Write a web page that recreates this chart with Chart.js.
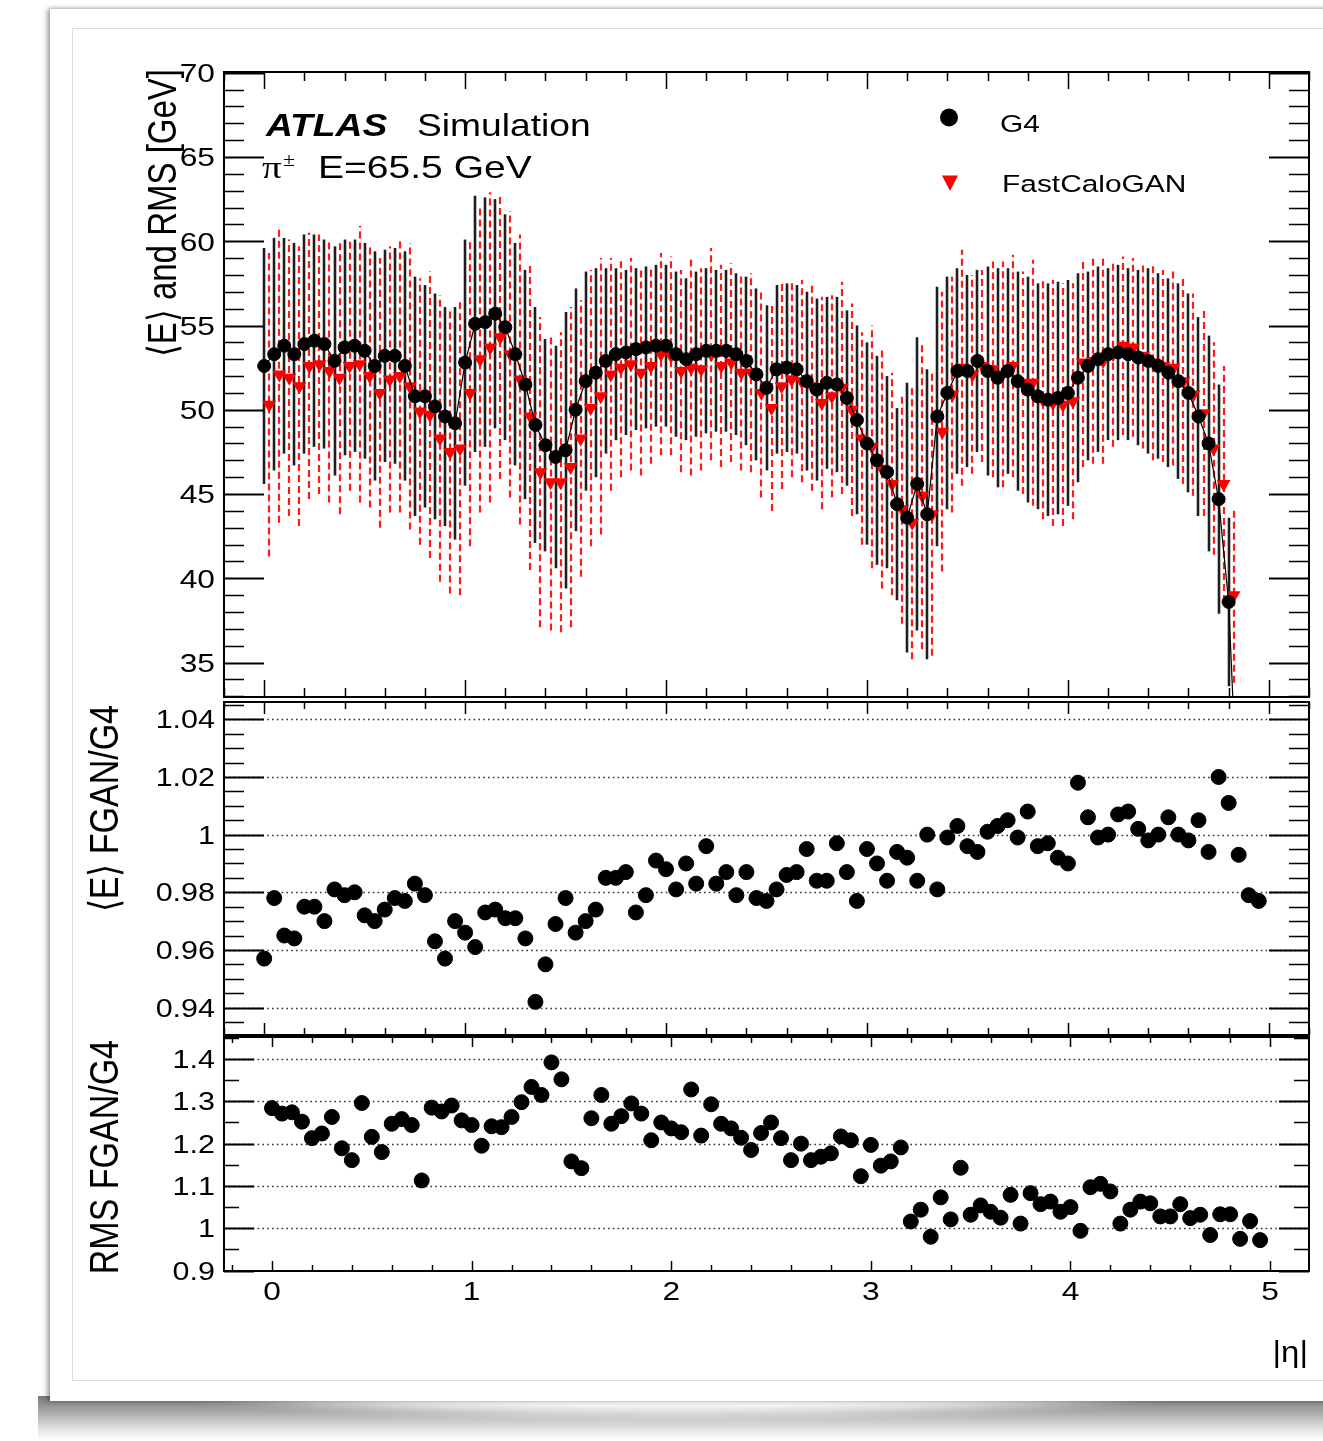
<!DOCTYPE html>
<html>
<head>
<meta charset="utf-8">
<script src="https://cdn.jsdelivr.net/npm/chart.js@4/dist/chart.umd.min.js"></script>
<style>
  html, body { margin: 0; padding: 0; background: #fff; }
  #page { position: relative; width: 1323px; height: 1441px; overflow: hidden; background: #fff; }
  #shadow { position: absolute; left: 38px; top: 1396px; width: 1300px; height: 45px;
            background: linear-gradient(to bottom, #7a7a7a 0%, #a8a8a8 35%, #e6e6e6 75%, #fff 100%); }
  #glow { position: absolute; left: 150px; top: 1330px; width: 1060px; height: 84px; border-radius: 50%;
          background: #fff; filter: blur(7px); }
  #card { position: absolute; left: 50px; top: 9px; width: 1300px; height: 1392px; background: #fff;
          box-shadow: -3px 0 5px rgba(0,0,0,0.35), 0 -1px 3px rgba(0,0,0,0.12); }
  #inner { position: absolute; left: 72px; top: 28px; width: 1270px; height: 1351px; border: 1px solid #dcdcdc; }
  canvas { position: absolute; left: 0; top: 0; }
</style>
</head>
<body>
<div id="page">
  <div id="shadow"></div>
  <div id="glow"></div>
  <div id="card"></div>
  <div id="inner"></div>
  <canvas id="cTop" width="1323" height="1441"></canvas>
  <canvas id="cMid" width="1323" height="1441"></canvas>
  <canvas id="cBot" width="1323" height="1441"></canvas>
</div>
<script>
// |eta| bins
const etaBins = [
  0.00,0.05,0.10,0.15,0.20,0.25,0.30,0.35,0.40,0.45,
  0.50,0.55,0.60,0.65,0.70,0.75,0.80,0.85,0.90,0.95,
  1.00,1.05,1.10,1.15,1.20,1.25,1.30,1.35,1.40,1.45,
  1.50,1.55,1.60,1.65,1.70,1.75,1.80,1.85,1.90,1.95,
  2.00,2.05,2.10,2.15,2.20,2.25,2.30,2.35,2.40,2.45,
  2.50,2.55,2.60,2.65,2.70,2.75,2.80,2.85,2.90,2.95,
  3.00,3.05,3.10,3.15,3.20,3.25,3.30,3.35,3.40,3.45,
  3.50,3.55,3.60,3.65,3.70,3.75,3.80,3.85,3.90,3.95,
  4.00,4.05,4.10,4.15,4.20,4.25,4.30,4.35,4.40,4.45,
  4.50,4.55,4.60,4.65,4.70,4.75,4.80,4.85,4.90,4.95
];

// Geant4: mean energy and RMS [GeV]
const g4Mean = [
  52.6,53.3,53.8,53.3,53.9,54.1,53.9,52.9,53.7,53.8,
  53.5,52.6,53.2,53.2,52.6,50.8,50.8,50.2,49.6,49.2,
  52.8,55.1,55.2,55.7,54.9,53.3,51.5,49.1,47.9,47.2,
  47.6,50.0,51.7,52.2,52.9,53.3,53.4,53.6,53.7,53.8,
  53.8,53.3,53.0,53.3,53.5,53.5,53.5,53.3,52.9,52.1,
  51.3,52.4,52.5,52.4,51.7,51.2,51.6,51.5,50.7,49.4,
  48.0,47.0,46.3,44.4,43.6,45.6,43.8,49.6,51.0,52.3,
  52.3,52.9,52.3,51.9,52.3,51.7,51.2,50.8,50.6,50.7,
  51.0,51.9,52.6,53.0,53.3,53.4,53.3,53.1,52.9,52.6,
  52.2,51.7,51.0,49.6,48.0,44.7,38.6,25.0,15.0,10.0
];
const g4Rms = [
  7.0,6.9,6.4,6.6,6.5,6.3,6.2,6.8,6.4,6.3,
  6.4,6.8,6.3,6.4,6.8,7.1,6.6,6.7,6.5,6.9,
  7.3,7.6,7.4,6.8,6.7,6.6,6.8,7.0,6.3,6.6,
  8.2,7.2,6.5,6.2,5.5,5.1,4.9,4.8,4.8,4.8,
  4.8,4.9,4.8,4.9,4.9,4.8,4.8,4.8,5.0,5.1,
  4.9,5.0,5.0,5.0,5.3,5.4,5.1,5.2,5.2,5.6,
  6.0,6.2,5.7,5.7,8.0,8.7,8.6,7.7,6.9,6.1,
  5.7,5.4,6.2,6.5,6.1,6.5,6.7,6.7,6.9,6.9,
  6.7,6.2,5.6,5.5,5.1,5.2,5.1,5.2,5.5,5.5,
  5.6,5.8,5.9,5.9,6.4,6.8,5.0,5.0,5.0,5.0
];

// FastCaloGAN: mean energy and RMS [GeV]
const fganMean = [
  50.3,52.1,51.9,51.4,52.6,52.7,52.3,51.9,52.6,52.7,
  52.0,51.0,51.8,52.0,51.4,49.9,49.7,48.3,47.5,47.7,
  51.0,53.0,53.7,54.3,53.3,51.8,49.6,46.3,45.7,45.7,
  46.6,48.3,50.1,50.8,52.1,52.5,52.7,52.2,52.6,53.3,
  53.2,52.3,52.5,52.4,53.3,52.6,52.8,52.2,52.2,51.0,
  50.1,51.4,51.8,51.7,51.4,50.4,50.8,51.3,50.0,48.3,
  47.8,46.5,45.6,44.1,43.3,44.9,43.8,48.7,50.9,52.5,
  52.1,52.6,52.4,52.1,52.6,51.6,51.6,50.6,50.4,50.3,
  50.5,52.8,52.9,52.9,53.3,53.8,53.7,53.2,52.8,52.6,
  52.5,51.7,50.9,49.8,47.7,45.6,39.0,24.8,14.7,9.8
];
const fganRms = [
  9.0,8.8,8.2,8.3,7.9,7.7,7.8,8.1,7.4,8.2,
  7.8,8.0,7.9,8.1,8.5,7.9,8.5,8.5,8.4,8.7,
  9.1,9.1,9.2,8.4,8.5,8.6,9.1,9.2,8.8,8.9,
  9.5,8.2,8.2,8.2,6.9,6.5,6.3,6.1,5.8,6.0,
  5.9,6.0,6.4,6.0,6.3,6.0,5.9,5.8,5.9,6.2,
  6.1,6.1,5.8,6.0,6.2,6.3,6.0,6.3,6.3,6.3,
  7.2,7.1,6.6,6.8,8.1,9.1,8.4,8.3,7.0,7.0,
  5.9,5.7,6.4,6.7,6.6,6.6,7.3,7.1,7.3,7.2,
  7.0,6.2,6.1,6.1,5.5,5.3,5.3,5.5,5.8,5.7,
  5.8,6.1,6.0,6.1,6.3,7.0,5.2,4.9,5.1,4.9
];

// Ratios FGAN/G4
const meanRatio = [
  0.957,0.978,0.965,0.964,0.975,0.975,0.970,0.981,0.979,0.980,
  0.972,0.970,0.974,0.978,0.977,0.983,0.979,0.963,0.957,0.970,
  0.966,0.961,0.973,0.974,0.971,0.971,0.964,0.942,0.955,0.969,
  0.978,0.966,0.970,0.974,0.985,0.985,0.987,0.973,0.979,0.991,
  0.988,0.981,0.990,0.983,0.996,0.983,0.987,0.979,0.987,0.978,
  0.977,0.981,0.986,0.987,0.995,0.984,0.984,0.997,0.987,0.977,
  0.995,0.990,0.984,0.994,0.992,0.984,1.000,0.981,0.999,1.003,
  0.996,0.994,1.001,1.003,1.005,0.999,1.008,0.996,0.997,0.992,
  0.990,1.018,1.006,0.999,1.000,1.007,1.008,1.002,0.998,1.000,
  1.006,1.000,0.998,1.005,0.994,1.020,1.011,0.993,0.979,0.977
];
const rmsRatio = [
  1.284,1.271,1.274,1.252,1.213,1.224,1.263,1.189,1.161,1.296,
  1.216,1.180,1.247,1.258,1.244,1.113,1.285,1.276,1.290,1.255,
  1.244,1.195,1.241,1.239,1.263,1.298,1.334,1.315,1.392,1.352,
  1.158,1.142,1.260,1.315,1.247,1.265,1.295,1.271,1.208,1.250,
  1.236,1.227,1.328,1.219,1.293,1.247,1.236,1.214,1.185,1.225,
  1.250,1.213,1.161,1.200,1.161,1.169,1.177,1.217,1.208,1.123,
  1.197,1.148,1.158,1.191,1.016,1.044,0.980,1.073,1.021,1.143,
  1.032,1.054,1.039,1.025,1.079,1.011,1.083,1.057,1.063,1.039,
  1.050,0.994,1.097,1.105,1.087,1.011,1.044,1.063,1.059,1.028,
  1.028,1.057,1.024,1.032,0.984,1.033,1.033,0.975,1.017,0.972
];

// Axis ticks and their labels
const etaTicks = [0, 1, 2, 3, 4, 5];
const etaTickLabels = ['0', '1', '2', '3', '4', '5'];
const energyTicks = [35, 40, 45, 50, 55, 60, 65, 70];
const energyTickLabels = ['35', '40', '45', '50', '55', '60', '65', '70'];
const meanRatioTicks = [0.94, 0.96, 0.98, 1.00, 1.02, 1.04];
const meanRatioTickLabels = ['0.94', '0.96', '0.98', '1', '1.02', '1.04'];
const rmsRatioTicks = [0.9, 1.0, 1.1, 1.2, 1.3, 1.4];
const rmsRatioTickLabels = ['0.9', '1', '1.1', '1.2', '1.3', '1.4'];

// ---------------------------------------------------------------------------
const FONT = "'Liberation Sans', Arial, Helvetica, sans-serif";
const SERIF = "'Liberation Serif', 'Times New Roman', serif";
const SX = 1.22;            // horizontal widening of all lettering
const FGAN_SHIFT = 0.025;   // FastCaloGAN drawn half a bin to the right
const PAGE_H = 1441;

function txt(ctx, s, x, y, o) {
  ctx.save();
  ctx.font = o.font;
  ctx.fillStyle = o.color || '#000';
  ctx.textAlign = o.align || 'left';
  ctx.textBaseline = o.baseline || 'alphabetic';
  ctx.translate(x, y);
  ctx.scale(o.sx === undefined ? SX : o.sx, 1);
  if (o.rotate) ctx.rotate(-Math.PI / 2);
  ctx.fillText(s, 0, 0);
  ctx.restore();
}

function fixedTicks(values) {
  return (scale) => { scale.ticks = values.map(v => ({ value: v })); };
}

// Frame, ROOT-like inward ticks, dotted grid, error bars and lettering of one panel
function makeDeco(o) {
  return {
    id: 'panelDeco',
    beforeDatasetsDraw(chart) {
      const { ctx, chartArea: a } = chart;
      const xs = chart.scales.x, ys = chart.scales.y;
      ctx.save();
      ctx.beginPath();
      ctx.rect(a.left, a.top, a.right - a.left, a.bottom - a.top);
      ctx.clip();
      if (o.grid) {
        ctx.strokeStyle = '#333';
        ctx.lineWidth = 1.4;
        ctx.setLineDash([1.6, 3.2]);
        ys.ticks.forEach(t => {
          const y = Math.round(ys.getPixelForValue(t.value)) + 0.5;
          ctx.beginPath(); ctx.moveTo(a.left, y); ctx.lineTo(a.right, y); ctx.stroke();
        });
        ctx.setLineDash([]);
      }
      (o.errorBars || []).forEach(eb => {
        ctx.strokeStyle = eb.color;
        ctx.lineWidth = eb.width;
        ctx.setLineDash(eb.dash);
        const shift = eb.shift;
        eb.x.forEach((xv, i) => {
          const px = Math.round(xs.getPixelForValue(xv + shift));
          const y1 = ys.getPixelForValue(eb.mean[i] - eb.rms[i]);
          const y2 = ys.getPixelForValue(eb.mean[i] + eb.rms[i]);
          ctx.beginPath(); ctx.moveTo(px, y1); ctx.lineTo(px, y2); ctx.stroke();
        });
        ctx.setLineDash([]);
      });
      ctx.restore();
    },
    afterDatasetsDraw(chart) {
      const { ctx, chartArea: a } = chart;
      const xs = chart.scales.x, ys = chart.scales.y;
      ctx.save();
      ctx.strokeStyle = '#000';
      ctx.lineWidth = 1.5;
      const x0 = Math.ceil(xs.min / 0.2 - 1e-6);
      const x1 = Math.floor(xs.max / 0.2 + 1e-6);
      for (let k = x0; k <= x1; k++) {
        const v = k * 0.2;
        const major = Math.abs(v - Math.round(v)) < 1e-6;
        const px = Math.round(xs.getPixelForValue(v)) + 0.5;
        const L = major ? o.xMajor : o.xMinor;
        ctx.beginPath();
        ctx.moveTo(px, a.bottom); ctx.lineTo(px, a.bottom - L);
        ctx.moveTo(px, a.top); ctx.lineTo(px, a.top + L);
        ctx.stroke();
      }
      const majors = ys.ticks.map(t => t.value);
      const m0 = Math.ceil(ys.min / o.yMinorStep - 1e-6);
      const m1 = Math.floor(ys.max / o.yMinorStep + 1e-6);
      for (let k = m0; k <= m1; k++) {
        const v = k * o.yMinorStep;
        const major = majors.some(m => Math.abs(m - v) < 1e-6);
        const py = Math.round(ys.getPixelForValue(v)) + 0.5;
        const L = major ? o.yMajor : o.yMinor;
        ctx.lineWidth = major ? 2 : 1.6;
        ctx.beginPath();
        ctx.moveTo(a.left, py); ctx.lineTo(a.left + L, py);
        ctx.moveTo(a.right, py); ctx.lineTo(a.right - L, py);
        ctx.stroke();
      }
      ctx.lineWidth = 2;
      ctx.strokeRect(a.left, a.top, a.right - a.left, a.bottom - a.top);
      ctx.restore();
    },
    afterDraw(chart) {
      const { ctx, chartArea: a } = chart;
      const xs = chart.scales.x, ys = chart.scales.y;
      ys.ticks.forEach((t, i) => {
        const py = ys.getPixelForValue(t.value);
        txt(ctx, o.yLabels[i], a.left - 9, py + o.yLabelSize * 0.36,
            { font: `${o.yLabelSize}px ${FONT}`, align: 'right' });
      });
      if (o.xLabels) {
        xs.ticks.forEach((t, i) => {
          const px = xs.getPixelForValue(t.value);
          txt(ctx, o.xLabels[i], px, o.xLabelBase, { font: `26px ${FONT}`, align: 'center' });
        });
      }
      if (o.extra) o.extra(ctx, chart);
    }
  };
}

function drawTopLettering(ctx) {
  txt(ctx, 'ATLAS', 266, 136, { font: `italic bold 30.5px ${FONT}` });
  txt(ctx, 'Simulation', 417, 136, { font: `30.5px ${FONT}` });
  txt(ctx, 'π', 262, 178, { font: `32px ${SERIF}` });
  txt(ctx, '±', 283, 166, { font: `18px ${SERIF}` });
  txt(ctx, 'E=65.5 GeV', 318, 178, { font: `32px ${FONT}` });
  // legend
  ctx.save();
  ctx.fillStyle = '#000';
  ctx.beginPath(); ctx.arc(949, 117.5, 9, 0, Math.PI * 2); ctx.fill();
  ctx.fillStyle = '#ff0000';
  ctx.beginPath(); ctx.moveTo(942, 175.5); ctx.lineTo(958, 175.5); ctx.lineTo(950, 191); ctx.closePath(); ctx.fill();
  ctx.restore();
  txt(ctx, 'G4', 1000, 132, { font: `24.5px ${FONT}` });
  txt(ctx, 'FastCaloGAN', 1002, 192, { font: `24.5px ${FONT}` });
  txt(ctx, '⟨E⟩ and RMS [GeV]', 176, 69, { font: `33px ${FONT}`, rotate: true, align: 'right' });
}
function drawMidLettering(ctx) {
  txt(ctx, '⟨E⟩ FGAN/G4', 118, 705, { font: `34px ${FONT}`, rotate: true, align: 'right' });
}
function drawBotLettering(ctx) {
  txt(ctx, 'RMS FGAN/G4', 118, 1040, { font: `34px ${FONT}`, rotate: true, align: 'right' });
  txt(ctx, '|η|', 1308, 1362, { font: `30px ${FONT}`, align: 'right', sx: 1.1 });
}

function baseOptions(area, xRange, yRange, yTickValues) {
  return {
    responsive: false,
    animation: false,
    devicePixelRatio: 1,
    events: [],
    layout: { padding: { left: 224, right: 1323 - 1309, top: area[0], bottom: PAGE_H - area[1] } },
    scales: {
      x: { type: 'linear', min: xRange[0], max: xRange[1], display: false,
           afterBuildTicks: fixedTicks(etaTicks) },
      y: { type: 'linear', min: yRange[0], max: yRange[1], display: false,
           afterBuildTicks: fixedTicks(yTickValues) }
    },
    plugins: { legend: { display: false }, tooltip: { enabled: false } }
  };
}

const pts = (xs, ys, shift) => xs.map((x, i) => ({ x: x + (shift || 0), y: ys[i] }));

// Upper panel: mean energy with RMS bars
new Chart(document.getElementById('cTop'), {
  type: 'scatter',
  data: {
    datasets: [
      { label: 'G4', data: pts(etaBins, g4Mean), showLine: true, tension: 0,
        borderColor: '#000', borderWidth: 1.2,
        pointStyle: 'circle', pointRadius: 6.5, pointBorderWidth: 1,
        pointBackgroundColor: '#000', pointBorderColor: '#000', order: 0 },
      { label: 'FastCaloGAN', data: pts(etaBins, fganMean, FGAN_SHIFT), showLine: false,
        pointStyle: 'triangle', rotation: 180, pointRadius: 8, pointBorderWidth: 0,
        pointBackgroundColor: '#ff0000', pointBorderColor: '#ff0000', order: 1 }
    ]
  },
  options: baseOptions([72, 697], [-0.2, 5.2], [32.96, 70.04], energyTicks),
  plugins: [makeDeco({
    grid: false, xMajor: 17, xMinor: 9, yMajor: 40, yMinor: 20, yMinorStep: 1,
    yLabels: energyTickLabels, yLabelSize: 26, extra: drawTopLettering,
    errorBars: [
      { x: etaBins, mean: g4Mean, rms: g4Rms, color: '#1e1e1e', width: 2.6, dash: [], shift: 0 },
      { x: etaBins, mean: fganMean, rms: fganRms, color: '#ff1a1a', width: 2.2, dash: [7, 4], shift: FGAN_SHIFT }
    ]
  })]
});

// Middle panel: ratio of means
new Chart(document.getElementById('cMid'), {
  type: 'scatter',
  data: {
    datasets: [
      { label: 'mean ratio', data: pts(etaBins, meanRatio), showLine: false,
        pointStyle: 'circle', pointRadius: 7.5, pointBorderWidth: 1,
        pointBackgroundColor: '#000', pointBorderColor: '#000' }
    ]
  },
  options: baseOptions([702, 1035], [-0.2, 5.2], [0.9305, 1.046], meanRatioTicks),
  plugins: [makeDeco({
    grid: true, xMajor: 12, xMinor: 7, yMajor: 40, yMinor: 20, yMinorStep: 0.005,
    yLabels: meanRatioTickLabels, yLabelSize: 25, extra: drawMidLettering
  })]
});

// Lower panel: ratio of RMS
new Chart(document.getElementById('cBot'), {
  type: 'scatter',
  data: {
    datasets: [
      { label: 'rms ratio', data: pts(etaBins, rmsRatio), showLine: false,
        pointStyle: 'circle', pointRadius: 7.5, pointBorderWidth: 1,
        pointBackgroundColor: '#000', pointBorderColor: '#000' }
    ]
  },
  options: baseOptions([1037, 1271], [-0.2405, 5.195], [0.899, 1.452], rmsRatioTicks),
  plugins: [makeDeco({
    grid: true, xMajor: 10, xMinor: 6, yMajor: 30, yMinor: 15, yMinorStep: 0.05,
    yLabels: rmsRatioTickLabels, yLabelSize: 25, xLabels: etaTickLabels, xLabelBase: 1300,
    extra: drawBotLettering
  })]
});
</script>
</body>
</html>
